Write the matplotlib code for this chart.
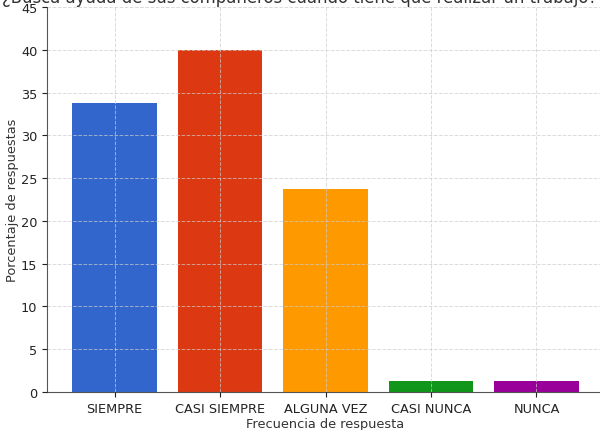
import matplotlib
matplotlib.use("Agg")
import matplotlib.pyplot as plt

categories = ["SIEMPRE", "CASI SIEMPRE", "ALGUNA VEZ", "CASI NUNCA", "NUNCA"]
values = [33.75, 40.0, 23.75, 1.25, 1.25]
colors = ["#3366CC", "#DC3912", "#FF9900", "#109618", "#990099"]
title = "¿Busca ayuda de sus compañeros cuando tiene que realizar un trabajo?"

fs = 9.3
fig = plt.figure(figsize=(6, 4.31), dpi=100)
ax = fig.add_axes([47/600, 38/431, 557/600, 385/431])
ax.bar(categories, values, color=colors, width=0.8)
ax.set_ylim(0, 45)
ax.set_xlim(-0.64, 4.64)
ax.tick_params(labelsize=fs, colors="#222222")
ax.set_xlabel("Frecuencia de respuesta", fontsize=fs, color="#333333", labelpad=2)
ax.set_ylabel("Porcentaje de respuestas", fontsize=fs, color="#333333", labelpad=1)
ax.set_axisbelow(False)
ax.grid(True, linestyle="--", color="#cccccc", linewidth=0.7, alpha=0.7)
ax.spines["top"].set_visible(False)
ax.spines["right"].set_visible(False)
for s in ("left", "bottom"):
    ax.spines[s].set_color("#555555")
fig.text(0.5, 1 - 3/431, title, ha="center", va="baseline", fontsize=11.9, color="#333333")
fig.savefig("out.png", dpi=100)
